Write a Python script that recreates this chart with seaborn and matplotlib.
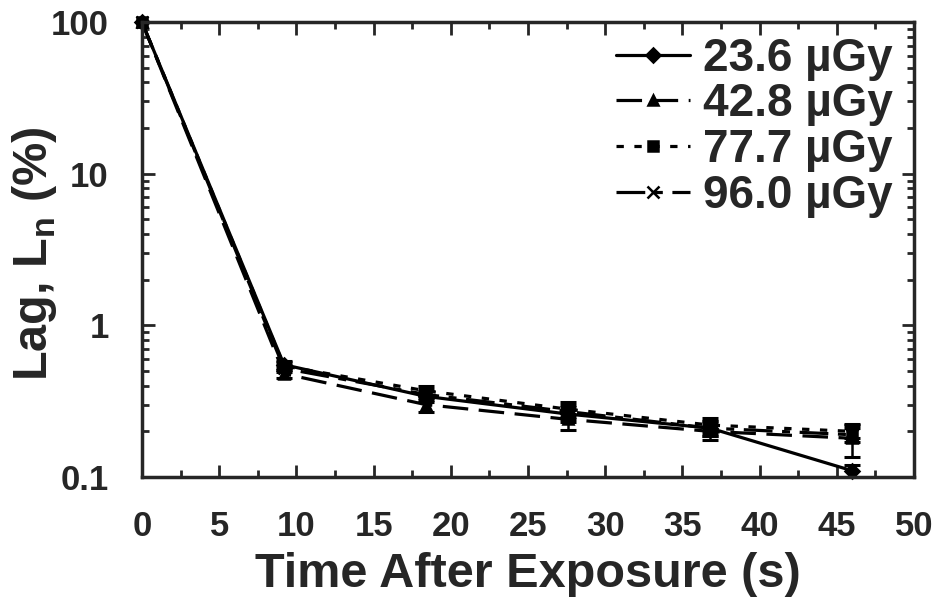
import numpy as np
import pandas as pd
import matplotlib
matplotlib.use("Agg")
import matplotlib.pyplot as plt
import seaborn as sns
from matplotlib.ticker import MultipleLocator, LogLocator, NullFormatter, FixedLocator, FixedFormatter

times = [0, 9.2, 18.4, 27.6, 36.8, 46.0]
series_names = ["23.6 µGy", "42.8 µGy", "77.7 µGy", "96.0 µGy"]
lag_236 = [100, 0.55, 0.34, 0.26, 0.21, 0.11]
lag_428 = [100, 0.48, 0.30, 0.24, 0.20, 0.18]
lag_777 = [100, 0.54, 0.37, 0.28, 0.22, 0.20]
lag_960 = [100, 0.52, 0.35, 0.27, 0.21, 0.19]
err_236 = [0, 0.03, 0.03, 0.03, 0.025, 0.01]
err_428 = [0, 0.03, 0.03, 0.035, 0.025, 0.045]
err_777 = [0, 0.03, 0.03, 0.03, 0.025, 0.02]
err_960 = [0, 0.03, 0.03, 0.03, 0.025, 0.02]
ytick_vals = [0.1, 1, 10, 100]
ytick_text = ["0.1", "1", "10", "100"]

values = [lag_236, lag_428, lag_777, lag_960]
errors = [err_236, err_428, err_777, err_960]

sns.set_style("ticks")
plt.rcParams["font.family"] = ["Liberation Sans", "DejaVu Sans"]
plt.rcParams["font.weight"] = "bold"
plt.rcParams["mathtext.fontset"] = "custom"
plt.rcParams["mathtext.bf"] = "Liberation Sans:bold"
plt.rcParams["mathtext.rm"] = "Liberation Sans:bold"

fig = plt.figure(figsize=(9.42, 6.14), dpi=100)
ax = fig.add_axes([0.1507, 0.2231, 0.8196, 0.7410])

dash_list = [None, (8, 3.3), (2.3, 3.3), (9, 3, 2.5, 3)]
marker_list = ["D", "^", "s", "x"]
msize_list = [7, 7, 7, 8]

for name, vals, dsh, mk, ms in zip(series_names, values, dash_list, marker_list, msize_list):
    df = pd.DataFrame({"time": times, "lag": vals})
    kw = {}
    if dsh is not None:
        kw["dashes"] = dsh
    sns.lineplot(data=df, x="time", y="lag", color="black", marker=mk,
                 markersize=ms, markeredgewidth=1.8, markeredgecolor="black",
                 linewidth=2.3, label=name, ax=ax, **kw)
for line in ax.lines:
    line.set_clip_on(False)

for vals, errs in zip(values, errors):
    ax.errorbar(times[1:], vals[1:], yerr=errs[1:], fmt="none", ecolor="black",
                elinewidth=1.8, capsize=6, capthick=2.2)

ax.set_yscale("log")
ax.set_xlim(0, 50)
ax.set_ylim(0.1, 100)
ax.xaxis.set_major_locator(MultipleLocator(5))
ax.xaxis.set_minor_locator(MultipleLocator(2.5))
ax.yaxis.set_major_locator(FixedLocator(ytick_vals))
ax.yaxis.set_major_formatter(FixedFormatter(ytick_text))
ax.yaxis.set_minor_locator(LogLocator(base=10, subs=np.arange(2, 10)))
ax.yaxis.set_minor_formatter(NullFormatter())

ax.tick_params(which="both", direction="in", top=True, right=True, width=2)
ax.tick_params(which="major", length=9, labelsize=25)
ax.tick_params(axis="x", which="major", pad=24)
ax.tick_params(axis="y", which="major", pad=24)
ax.tick_params(which="minor", length=5)
for lab in ax.get_xticklabels() + ax.get_yticklabels():
    lab.set_fontweight("bold")
for s in ax.spines.values():
    s.set_linewidth(2.5)

ax.set_xlabel("Time After Exposure (s)", fontsize=35, fontweight="bold")
ax.set_ylabel("Lag, L$_\\mathbf{n}$ (%)", fontsize=35, fontweight="bold")
ax.xaxis.set_label_coords(0.5, -0.165)
ax.yaxis.set_label_coords(-0.107, 0.49)

leg = ax.legend(loc="upper right", bbox_to_anchor=(0.972, 0.968), frameon=False,
                handlelength=1.6, handletextpad=0.28, labelspacing=0.04,
                borderaxespad=0.0, borderpad=0.0,
                prop={"weight": "bold", "size": 33})
fig.savefig("out.png", dpi=100)
